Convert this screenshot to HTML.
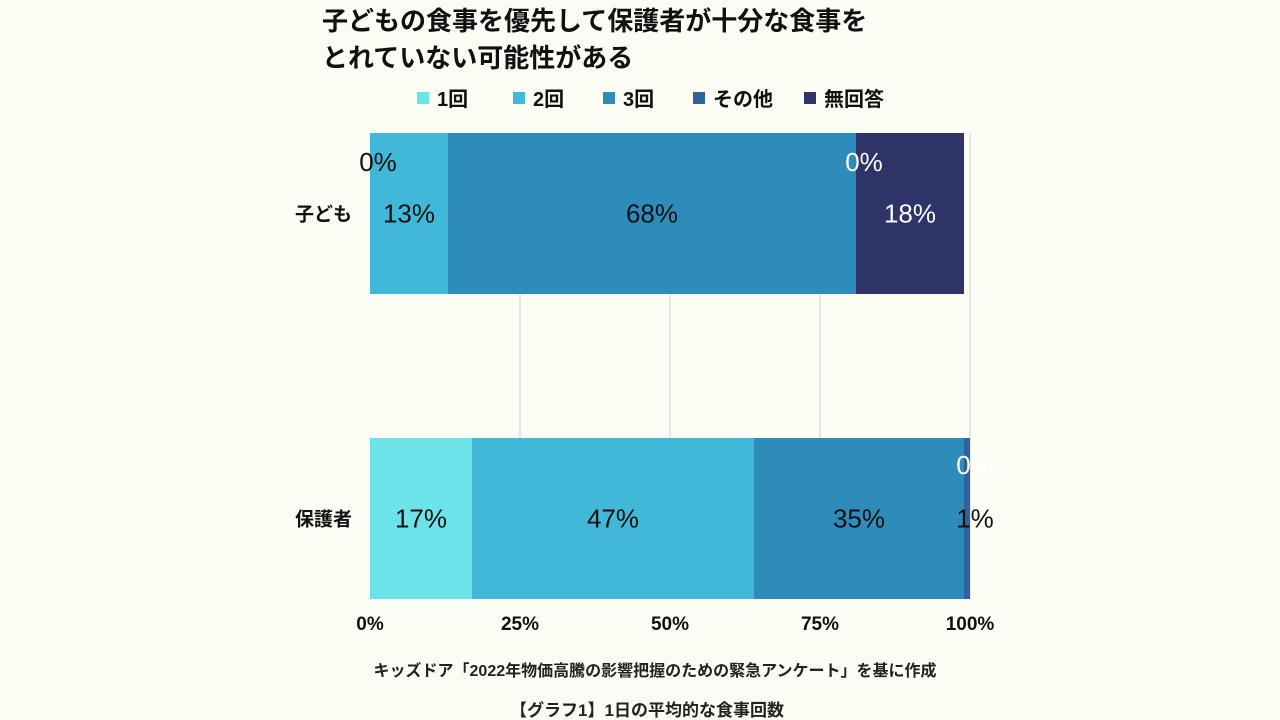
<!DOCTYPE html>
<html><head><meta charset="utf-8"><style>
body{margin:0;background:#fbfdf5;}
svg{display:block;font-family:"Liberation Sans","Noto Sans CJK JP",sans-serif;}
</style></head><body>
<svg id="chart" width="1280" height="720">
<rect width="1280" height="720" fill="#fbfdf5"/>
<text x="322" y="30" font-size="26" font-weight="bold" fill="#111">子どもの食事を優先して保護者が十分な食事を</text>
<text x="322" y="67" font-size="26" font-weight="bold" fill="#111">とれていない可能性がある</text>
<g id="legend"></g>
<g id="grid"></g>
<g id="bars"></g>
<g id="labels"></g>
<g id="axes"></g>
<text x="655" y="676" font-size="16" font-weight="bold" fill="#222" text-anchor="middle">キッズドア「2022年物価高騰の影響把握のための緊急アンケート」を基に作成</text>
<text x="647" y="716" font-size="17" font-weight="bold" fill="#222" text-anchor="middle">【グラフ1】1日の平均的な食事回数</text>
</svg>
<script>
const categories = ["子ども", "保護者"];
const seriesNames = ["1回", "2回", "3回", "その他", "無回答"];
const kids = [0, 13, 68, 0, 18];
const parents = [17, 47, 35, 1, 0];
const tickLabels = ["0%", "25%", "50%", "75%", "100%"];
const tickValues = [0, 25, 50, 75, 100];
const colors = ["#6ce3e8", "#42b8d8", "#2e8cba", "#2f63a0", "#2e3368"];
const NS = "http://www.w3.org/2000/svg";
const x0 = 370, x1 = 970;
const xs = v => x0 + (x1 - x0) * v / 100;
const barTop = [133, 438], barH = 161;
function mk(tag, attrs, parent, text) {
  const e = document.createElementNS(NS, tag);
  for (const k in attrs) e.setAttribute(k, attrs[k]);
  if (text !== undefined) e.textContent = text;
  parent.appendChild(e);
  return e;
}
const grid = document.getElementById("grid");
tickValues.forEach((t, i) => {
  if (t > 0) {
    const l = mk("line", {x1: xs(t), x2: xs(t), y1: 133, y2: 599, stroke: "#cfcfcf", "stroke-width": 1}, grid);
    
    
  }
  const tx = mk("text", {x: xs(t), y: 630, "font-size": 19, "font-weight": "bold", fill: "#111", "text-anchor": "middle"}, document.getElementById("axes"), tickLabels[i]);
  
  
});
const axes = document.getElementById("axes");
[kids, parents].forEach((vals, ci) => {
  const cl = mk("text", {x: 352, y: barTop[ci] + barH / 2 + 7, "font-size": 19, "font-weight": "bold", fill: "#111", "text-anchor": "end"}, axes, categories[ci]);
  
  
  let acc = 0;
  vals.forEach((v, si) => {
    const r = mk("rect", {x: xs(acc), y: barTop[ci], width: xs(acc + v) - xs(acc), height: barH, fill: colors[si]}, document.getElementById("bars"));
    
    
    const cx = xs(acc + v / 2);
    let cy = barTop[ci] + barH / 2 + 9;
    let lx = cx;
    if (v <= 1) {
      cy = v === 0 ? barTop[ci] + 38 : barTop[ci] + barH / 2 + 9;
      lx = v === 0 && ci === 1 ? cx + 5 : cx + 8;
      if (ci === 1 && v === 0) cy = barTop[ci] + 36;
    }
    const white = si === 4 || (si === 3 && ci === 0);
    const t = mk("text", {x: lx, y: cy, "font-size": 26, fill: white ? "#fff" : "#111", "text-anchor": "middle"}, document.getElementById("labels"), v + "%");
    
    
    acc += v;
  });
});
const legend = document.getElementById("legend");
const lx = [417, 513, 603, 693, 804];
seriesNames.forEach((n, i) => {
  const r = mk("rect", {x: lx[i], y: 92, width: 12, height: 12, fill: colors[i]}, legend);
  
  
  const t = mk("text", {x: lx[i] + 20, y: 106, "font-size": 20, "font-weight": "bold", fill: "#111"}, legend, n);
  
  
});
</script>
</body></html>
